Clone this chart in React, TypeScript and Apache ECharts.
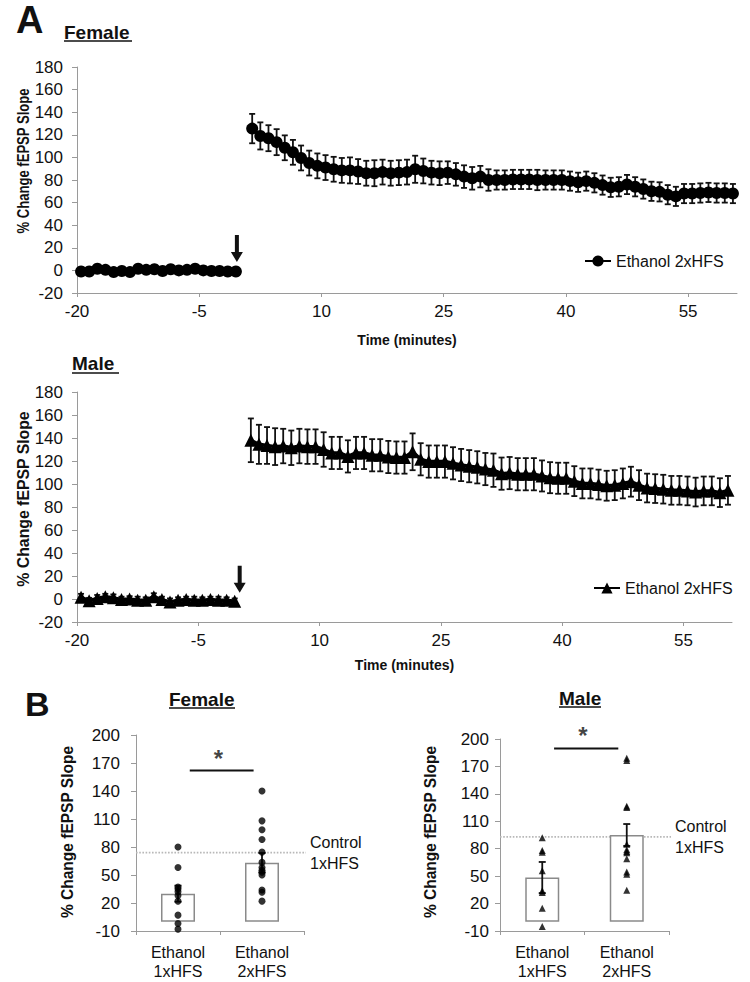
import React, { useEffect, useRef } from 'react';
import * as echarts from 'echarts';

const FONT = '"Liberation Sans", Arial, sans-serif';
const INK = '#111';
const AXIS = '#9a9a9a';
const Y_NAME = '% Change fEPSP Slope';

// ---- Panel A: time course ----
const timeTicks = [-20, -5, 10, 25, 40, 55];
const preTimes = [-19.5, -18.5, -17.5, -16.5, -15.5, -14.5, -13.5, -12.5, -11.5, -10.5, -9.5, -8.5, -7.5, -6.5, -5.5, -4.5, -3.5, -2.5, -1.5, -0.5];
const postTimes = [
  1.5, 2.5, 3.5, 4.5, 5.5, 6.5, 7.5, 8.5, 9.5, 10.5, 11.5, 12.5, 13.5, 14.5, 15.5, 16.5, 17.5, 18.5, 19.5, 20.5,
  21.5, 22.5, 23.5, 24.5, 25.5, 26.5, 27.5, 28.5, 29.5, 30.5, 31.5, 32.5, 33.5, 34.5, 35.5, 36.5, 37.5, 38.5, 39.5, 40.5,
  41.5, 42.5, 43.5, 44.5, 45.5, 46.5, 47.5, 48.5, 49.5, 50.5, 51.5, 52.5, 53.5, 54.5, 55.5, 56.5, 57.5, 58.5, 59.5, 60.5,
];

const femalePre = [-1, -1, 1.5, 0.5, -1.5, -0.5, -1.5, 1.5, 0.5, 1, -0.5, 1, 0, 0.5, 1.5, 0, -0.5, -0.5, -1, -1];
const femalePreSem = [2.5, 2, 2, 2.5, 2, 2, 2.5, 2, 2, 2, 2.5, 2, 2, 2, 2, 2.5, 2, 2, 2, 2];
const femalePost = [
  125.5, 119, 117, 113.5, 108.5, 104.5, 99.5, 95, 92.5, 91, 89.5, 88.5, 88.5, 87.5, 86, 86, 87, 86, 86.5, 87,
  89.5, 88, 86.5, 86, 86.5, 85, 83, 81.5, 83, 80, 80, 80, 80.5, 80.5, 80.5, 80, 80, 80, 80, 79,
  78, 79, 77.5, 75.5, 73.5, 74, 76, 74, 72, 70, 69.5, 67, 65.5, 68, 68, 68.5, 69, 68.5, 68.5, 68,
];
const femalePostSem = [
  13, 12, 11.5, 11.5, 11, 11, 11, 11, 11, 11, 11, 11, 11.5, 11, 11, 11.5, 11, 11, 11, 11,
  12, 11, 10.5, 10.5, 10, 10, 10, 10, 9.5, 9.5, 8.5, 8.5, 8.5, 8.5, 8.5, 9, 8.5, 8.5, 8.5, 8.5,
  8.5, 8.5, 8.5, 8.5, 8.5, 8.5, 8.5, 8.5, 8.5, 8.5, 8.5, 8.5, 8.5, 8.5, 8.5, 8.5, 8.5, 8.5, 8.5, 8.5,
];

const malePre = [1.5, -1.5, 0.5, 2, 1, -0.5, 0, -1, -1, 2, -0.5, -2.5, -1, -0.5, -1, -1, -0.5, -1, -1, -2];
const malePreSem = [3, 2.5, 3, 2.5, 3, 2.5, 2.5, 3, 2.5, 3, 2.5, 3, 2.5, 2.5, 3, 2.5, 2.5, 3, 2.5, 2.5];
const malePost = [
  138, 134.5, 133.5, 132.5, 133, 131.5, 133, 132.5, 132.5, 130, 127, 127, 124, 127, 127, 125, 125, 123.5, 123, 123,
  128, 121.5, 119.5, 119.5, 119.5, 118, 116.5, 115.5, 114.5, 113, 112, 109, 109.5, 108.5, 108.5, 108.5, 107, 105.5, 105, 105,
  102.5, 100.5, 100.5, 99.5, 98.5, 99, 100.5, 102, 99, 96.5, 96, 95.5, 94.5, 94.5, 94, 93, 94, 94, 92.5, 94.5,
];
const malePostSem = [
  19, 17, 16, 16, 15, 15, 15, 15, 15, 15, 14, 14, 14, 14, 14, 14, 14, 14, 14, 14,
  16, 14, 14, 14, 14, 14, 14, 14, 14, 14, 14.5, 14, 14, 14, 14, 14, 13.5, 13.5, 13.5, 13.5,
  13, 13, 13, 13, 13, 13, 13, 13, 13, 12.5, 12.5, 12.5, 12.5, 12.5, 12.5, 12.5, 12.5, 12.5, 12.5, 12.5,
];

// ---- Panel B: summary ----
const groupLabels = ['Ethanol\n1xHFS', 'Ethanol\n2xHFS'];
const barTicks = [-10, 20, 50, 80, 110, 140, 170, 200];
const femaleMeans = [30, 63];
const femaleSems = [8.6, 10.5];
const femaleDots1 = [80, 58, 37, 35, 32, 28, 22, 7, -2, -8];
const femaleDots2 = [140, 108, 98.5, 88, 74.5, 63.5, 58, 55, 53, 50, 34, 31.5, 22];
const femaleControl = 74;
const femaleSigLevel = 162;
const maleMeans = [48.5, 95];
const maleSems = [17, 12];
const maleDots1 = [92, 78, 76, 56, 34, 32, 15, -5];
const maleDots2 = [179, 176.5, 126.5, 125, 85, 79, 77, 75.5, 69, 54.5, 52, 34.5];
const maleControl = 93;
const maleSigLevel = 189.5;

const sigSpan = [0.64, 0.98, 1.4];
const controlSpan = [0, 2.24];

const zip3 = (xs: number[], ys: number[], es: number[]) => xs.map((x, i) => [x, ys[i], es[i]]);
const zip2 = (xs: number[], ys: number[]) => xs.map((x, i) => [x, ys[i]]);

function errorBars(cap: number, width: number) {
  return (_params: any, api: any) => {
    const x = api.value(0);
    const y = api.value(1);
    const e = api.value(2);
    const hi = api.coord([x, y + e]);
    const lo = api.coord([x, y - e]);
    const style = { stroke: INK, lineWidth: width, fill: 'none' };
    return {
      type: 'group',
      children: [
        { type: 'line', shape: { x1: hi[0], y1: hi[1], x2: lo[0], y2: lo[1] }, style },
        { type: 'line', shape: { x1: hi[0] - cap, y1: hi[1], x2: hi[0] + cap, y2: hi[1] }, style },
        { type: 'line', shape: { x1: lo[0] - cap, y1: lo[1], x2: lo[0] + cap, y2: lo[1] }, style },
      ],
    };
  };
}

const ARROW = 'path://M4,0 L8,0 L8,17 L12,17 L6,27 L0,17 L4,17 Z';

function timeXAxis(gridIndex: number, nameGap: number) {
  return {
    type: 'value',
    gridIndex,
    min: -20,
    max: 61,
    name: 'Time (minutes)',
    nameLocation: 'middle',
    nameGap,
    nameTextStyle: { fontFamily: FONT, fontSize: 14, fontWeight: 'bold', color: INK },
    axisLine: { show: true, onZero: false, lineStyle: { color: AXIS, width: 1 } },
    axisTick: { show: true, length: 4, customValues: timeTicks, lineStyle: { color: AXIS } },
    axisLabel: { customValues: timeTicks, fontFamily: FONT, fontSize: 17, color: INK, margin: 10 },
    splitLine: { show: false },
  };
}

function lineYAxis(gridIndex: number) {
  return {
    type: 'value',
    gridIndex,
    min: -20,
    max: 180,
    interval: 20,
    axisLine: { show: true, onZero: false, lineStyle: { color: AXIS, width: 1 } },
    axisTick: { show: true, length: 5, lineStyle: { color: AXIS } },
    axisLabel: { fontFamily: FONT, fontSize: 17, color: INK, margin: 14 },
    splitLine: { show: false },
  };
}

function barYAxis(gridIndex: number, margin: number) {
  return {
    type: 'value',
    gridIndex,
    min: -10,
    max: 200,
    axisLine: { show: true, onZero: false, lineStyle: { color: AXIS, width: 1 } },
    axisTick: { show: true, length: 5, customValues: barTicks, lineStyle: { color: AXIS } },
    axisLabel: { customValues: barTicks, fontFamily: FONT, fontSize: 17, color: INK, margin },
    splitLine: { show: false },
  };
}

function catXAxis(gridIndex: number) {
  return {
    type: 'category',
    gridIndex,
    data: groupLabels,
    boundaryGap: true,
    axisLine: { show: true, onZero: false, lineStyle: { color: AXIS, width: 1 } },
    axisTick: { show: true, length: 4, lineStyle: { color: AXIS } },
    axisLabel: { fontFamily: FONT, fontSize: 16, color: INK, margin: 12, lineHeight: 19 },
  };
}

function timeSeries(prefix: string, axis: number, symbol: string, size: number, pre: number[], preSem: number[], post: number[], postSem: number[], arrowOffset: number[]) {
  const name = prefix + ' Ethanol 2xHFS';
  const line = {
    type: 'line',
    name,
    xAxisIndex: axis,
    yAxisIndex: axis,
    symbol,
    symbolSize: size,
    showSymbol: true,
    itemStyle: { color: '#000' },
    lineStyle: { color: '#000', width: 3.5 },
    z: 3,
  };
  return [
    { type: 'custom', xAxisIndex: axis, yAxisIndex: axis, renderItem: errorBars(3, 1.8), data: zip3(preTimes, pre, preSem), encode: { x: 0, y: 1 }, z: 2, silent: true },
    { type: 'custom', xAxisIndex: axis, yAxisIndex: axis, renderItem: errorBars(3, 1.8), data: zip3(postTimes, post, postSem), encode: { x: 0, y: 1 }, z: 2, silent: true },
    {
      ...line,
      data: zip2(preTimes, pre),
      markPoint: {
        silent: true,
        symbol: ARROW,
        symbolSize: [12, 27],
        symbolOffset: arrowOffset,
        itemStyle: { color: INK },
        label: { show: false },
        data: [{ coord: [preTimes[preTimes.length - 1], pre[pre.length - 1]] }],
      },
    },
    { ...line, data: zip2(postTimes, post) },
  ];
}

function barSeries(cat: number, val: number, means: number[], sems: number[], d1: number[], d2: number[], dotSymbol: string, dotSize: number, control: number, sig: number, starOffset: number[]) {
  return [
    { type: 'bar', xAxisIndex: cat, yAxisIndex: cat, data: means, barWidth: 34, itemStyle: { color: '#fff', borderColor: '#8a8a8a', borderWidth: 1.5 }, z: 2, silent: true },
    { type: 'custom', xAxisIndex: cat, yAxisIndex: cat, renderItem: errorBars(3.5, 1.8), data: means.map((m, i) => [i, m, sems[i]]), encode: { x: 0, y: 1 }, z: 3, silent: true },
    { type: 'scatter', xAxisIndex: cat, yAxisIndex: cat, symbol: dotSymbol, symbolSize: dotSize, itemStyle: { color: '#000' }, data: d1.map((v) => [0, v]), z: 4, silent: true },
    { type: 'scatter', xAxisIndex: cat, yAxisIndex: cat, symbol: dotSymbol, symbolSize: dotSize, itemStyle: { color: '#000' }, data: d2.map((v) => [1, v]), z: 4, silent: true },
    {
      type: 'line', xAxisIndex: val, yAxisIndex: cat, clip: false, symbol: 'none', silent: true, z: 1,
      lineStyle: { color: '#b8b8b8', width: 1.6, type: 'dotted' },
      data: controlSpan.map((x) => [x, control]),
      endLabel: { show: true, formatter: 'Control\n1xHFS', fontFamily: FONT, fontSize: 16, color: INK, lineHeight: 21, distance: 4 },
    },
    {
      type: 'line', xAxisIndex: val, yAxisIndex: cat, symbol: 'none', silent: true, z: 3,
      lineStyle: { color: INK, width: 2 },
      data: [[sigSpan[0], sig], [sigSpan[2], sig]],
    },
    {
      type: 'scatter', xAxisIndex: val, yAxisIndex: cat, symbolSize: 1, silent: true, z: 3,
      itemStyle: { color: 'rgba(0,0,0,0)' },
      data: [[sigSpan[1], sig]],
      label: { show: true, position: 'inside', offset: starOffset, formatter: '*', fontFamily: FONT, fontSize: 24, fontWeight: 'bold', color: INK },
    },
  ];
}

function titleText(text: string, x: number, y: number, size: number) {
  return { type: 'text', x, y, silent: true, style: { text, font: `bold ${size}px ${FONT}`, fill: INK, align: 'left', verticalAlign: 'middle' } };
}
function underline(x1: number, x2: number, y: number) {
  return { type: 'line', silent: true, shape: { x1, y1: y, x2, y2: y }, style: { stroke: INK, lineWidth: 1.5 } };
}
function yName(x: number, y: number, size: number, lengthScale: number) {
  return {
    type: 'text', x, y, rotation: Math.PI / 2, scaleX: lengthScale, scaleY: 1, silent: true,
    style: { text: Y_NAME, font: `bold ${size}px ${FONT}`, fill: INK, align: 'center', verticalAlign: 'middle' },
  };
}

export default function App() {
  const ref = useRef<HTMLDivElement>(null);
  useEffect(() => {
    if (!ref.current) return;
    const chart = echarts.init(ref.current, undefined, { renderer: 'svg' });
    const legendText = { fontFamily: FONT, fontSize: 16, color: INK };
    const option: any = {
      animation: false,
      backgroundColor: '#fff',
      grid: [
        { left: 77, top: 67, width: 660, height: 226 },
        { left: 77, top: 392, width: 655, height: 230 },
        { left: 136, top: 735, width: 168, height: 196 },
        { left: 500, top: 739, width: 169, height: 192 },
      ],
      xAxis: [
        timeXAxis(0, 40),
        timeXAxis(1, 36),
        catXAxis(2),
        catXAxis(3),
        { type: 'value', gridIndex: 2, min: 0, max: 2, show: false },
        { type: 'value', gridIndex: 3, min: 0, max: 2, show: false },
      ],
      yAxis: [lineYAxis(0), lineYAxis(1), barYAxis(2, 16), barYAxis(3, 11)],
      legend: [
        {
          left: 584, top: 253, padding: 0, itemWidth: 26, itemHeight: 14, selectedMode: false,
          data: ['Female Ethanol 2xHFS'], formatter: () => 'Ethanol 2xHFS', textStyle: legendText,
        },
        {
          left: 593, top: 580, padding: 0, itemWidth: 26, itemHeight: 14, selectedMode: false,
          data: ['Male Ethanol 2xHFS'], formatter: () => 'Ethanol 2xHFS', textStyle: legendText,
        },
      ],
      graphic: [
        titleText('A', 16, 20, 38),
        titleText('Female', 64, 32, 19),
        underline(64, 132, 41),
        titleText('Male', 72, 363, 19),
        underline(72, 119, 373),
        titleText('B', 25, 704, 34),
        titleText('Female', 169, 699, 19),
        underline(169, 235, 708),
        titleText('Male', 559, 698, 19),
        underline(559, 601, 707),
        yName(23, 161, 17, 0.77),
        yName(23, 499, 17, 0.93),
        yName(67, 832, 16, 0.97),
        yName(430, 832, 16, 0.97),
      ],
      series: [
        ...timeSeries('Female', 0, 'circle', 12, femalePre, femalePreSem, femalePost, femalePostSem, [1, -23]),
        ...timeSeries('Male', 1, 'triangle', 13, malePre, malePreSem, malePost, malePostSem, [5, -22]),
        ...barSeries(2, 4, femaleMeans, femaleSems, femaleDots1, femaleDots2, 'circle', 7, femaleControl, femaleSigLevel, [0, -12]),
        ...barSeries(3, 5, maleMeans, maleSems, maleDots1, maleDots2, 'triangle', 7, maleControl, maleSigLevel, [0, -13]),
      ],
    };
    chart.setOption(option);
    return () => chart.dispose();
  }, []);
  return <div ref={ref} style={{ position: 'absolute', left: 0, top: 0, width: 750, height: 982 }} />;
}
